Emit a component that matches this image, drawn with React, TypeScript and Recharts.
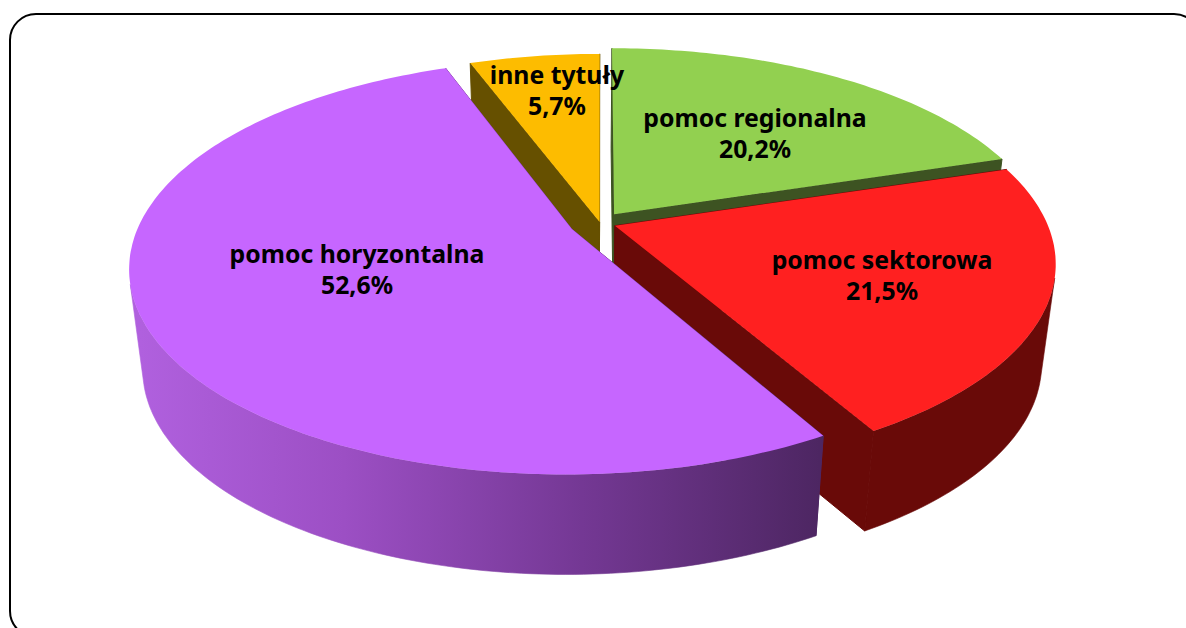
// Exploded 3D pie: Recharts computes the angles, the slice shape projects them onto a tilted disc.
import { PieChart, Pie } from "recharts";

const categories = ["inne tytuły", "pomoc regionalna", "pomoc sektorowa", "pomoc horyzontalna"];
const shares = [5.7, 20.2, 21.5, 52.6];

const topColors = ["#fdbc00", "#92d050", "#ff2020", "#c666ff"];
const wallColors = ["#665000", "#3d5322", "#690a08", "url(#purpleWall)"];
const explode = [2, 24, 16, 31];
const labelAnchors = [
  [557, 84],
  [755, 127],
  [882, 269],
  [357, 263],
];

const data = categories.map((name, i) => ({ name, value: shares[i] }));

const TILT = 0.46;
const PERSPECTIVE = 0.18;
const DEPTH = 100;
const DEPTH_SCALE = 0.97;
const VANISH_X = 582;

type Pt = [number, number];

function project(u: number, v: number, cx: number, cy: number, r: number): Pt {
  const s = 1 / (1 - (PERSPECTIVE * v) / r);
  return [cx + u * s, cy + v * TILT * s];
}

const lower = (p: Pt): Pt => [VANISH_X + (p[0] - VANISH_X) * DEPTH_SCALE, p[1] + DEPTH];
const toPath = (pts: Pt[]) => "M" + pts.map((p) => `${p[0].toFixed(1)},${p[1].toFixed(1)}`).join("L") + "Z";

// keep only the rim stretch that faces the viewer, so the wall is one clean polygon
function frontRim(rim: Pt[]): Pt[] {
  return rim.filter((p, i) => {
    const q = rim[Math.min(i + 1, rim.length - 1)];
    const o = rim[Math.max(i - 1, 0)];
    const e = lower(p);
    return (q[0] - o[0]) * (e[1] - p[1]) - (q[1] - o[1]) * (e[0] - p[0]) < 0;
  });
}

function SliceShape(props: any) {
  const { cx, cy, outerRadius: r, startAngle, endAngle, index } = props;
  const mid = ((startAngle + endAngle) / 2) * (Math.PI / 180);
  const ox = explode[index] * Math.cos(mid);
  const oy = -explode[index] * Math.sin(mid);
  const apex = project(ox, oy, cx, cy, r);

  const rim: Pt[] = [];
  const steps = Math.ceil(Math.abs(startAngle - endAngle));
  for (let i = 0; i <= steps; i++) {
    const a = (startAngle + ((endAngle - startAngle) * i) / steps) * (Math.PI / 180);
    rim.push(project(ox + r * Math.cos(a), oy - r * Math.sin(a), cx, cy, r));
  }
  const first = rim[0];
  const last = rim[rim.length - 1];
  const wall = wallColors[index];
  const front = frontRim(rim);

  return (
    <g>
      {index === 3 && (
        <defs>
          <linearGradient id="purpleWall" gradientUnits="userSpaceOnUse" x1="140" y1="0" x2="820" y2="0">
            <stop offset="0" stopColor="#b060de" />
            <stop offset="0.3" stopColor="#9c4fc4" />
            <stop offset="0.65" stopColor="#743894" />
            <stop offset="1" stopColor="#4d2662" />
          </linearGradient>
        </defs>
      )}
      {front.length > 1 && (
        <path d={toPath([...front, ...front.map(lower).reverse()])} fill={wall} stroke={wall} strokeWidth={0.6} />
      )}
      <path d={toPath([apex, first, lower(first), lower(apex)])} fill={wall} stroke={wall} strokeWidth={1} />
      <path d={toPath([apex, last, lower(last), lower(apex)])} fill={wall} stroke={wall} strokeWidth={1} />
      <path d={toPath([apex, ...rim])} fill={topColors[index]} />
    </g>
  );
}

function SliceLabel(props: any) {
  const { index, name, value } = props;
  const [x, y] = labelAnchors[index];
  return (
    <text
      x={x}
      y={y}
      textAnchor="middle"
      fontFamily="'Noto Sans', sans-serif"
      fontWeight={700}
      fontSize={24.8}
      fill="#000"
    >
      <tspan x={x}>{name}</tspan>
      <tspan x={x} dy={31}>
        {String(value).replace(".", ",")}%
      </tspan>
    </text>
  );
}

export default function App() {
  return (
    <div style={{ position: "absolute", left: 0, top: 0, width: 1186, height: 628, overflow: "hidden", background: "#fff" }}>
      <div
        style={{
          position: "absolute",
          left: 9,
          top: 13,
          width: 1188,
          height: 621,
          border: "2px solid #000",
          borderRadius: 27,
        }}
      />
      <div style={{ position: "absolute", left: 0, top: 0 }}>
        <PieChart width={1186} height={628} margin={{ top: 0, right: 0, bottom: 0, left: 0 }}>
          <Pie
            data={data}
            dataKey="value"
            nameKey="name"
            cx={600}
            cy={223}
            innerRadius={0}
            outerRadius={432}
            startAngle={110.52}
            endAngle={-249.48}
            stroke="none"
            shape={SliceShape}
            label={SliceLabel}
            labelLine={false}
            isAnimationActive={false}
          />
        </PieChart>
      </div>
    </div>
  );
}
